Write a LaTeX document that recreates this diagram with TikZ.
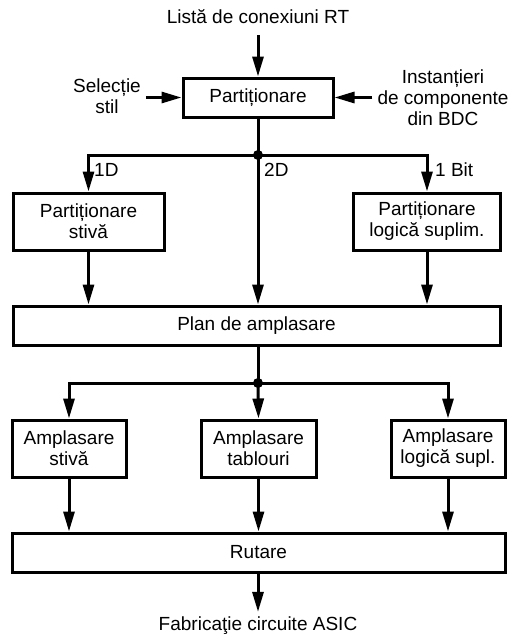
\documentclass[tikz,border=0pt]{standalone}
\usepackage{fontspec}
\setmainfont{Liberation Sans}
\usetikzlibrary{arrows.meta}
\begin{document}
\begin{tikzpicture}[x=1pt,y=-1pt,
  every node/.style={font=\fontsize{19}{21}\selectfont, inner sep=0pt},
  box/.style={draw, line width=3pt, align=center, minimum height=#1},
  box/.default=39pt,
  wire/.style={line width=3pt},
  arr/.style={wire, -{Triangle[length=20pt,width=11pt]}},
  lbl/.style={align=center},
  dot/.style={circle, fill, inner sep=0pt, minimum size=10pt}]
\useasboundingbox (0,0) rectangle (510,635);

% inputs
\node[lbl] (src) at (258,17) {Listă de conexiuni RT};
\node[lbl] (sel) at (107,96) {Selecție\\stil};
\node[lbl] (inst) at (443,98) {Instanțieri\\de componente\\din BDC};

% partitioning stage
\node[box, minimum width=150pt] (part) at (258,97.5) {Partiționare};
\node[box=57pt, minimum width=151pt] (pstack) at (88.5,221.5) {Partiționare\\stivă};
\node[box=57pt, minimum width=147pt] (plogic) at (427,221.5) {Partiționare\\logică suplim.};
\node[box, minimum width=487pt] (plan) at (256.5,325.5) {Plan de amplasare};

% placement stage
\node[box=57pt, minimum width=114pt] (astack) at (69,448.5) {Amplasare\\stivă};
\node[box=57pt, minimum width=115pt] (atabl) at (258.5,448.5) {Amplasare\\tablouri};
\node[box=57pt, minimum width=114pt] (alogic) at (448,448.5) {Amplasare\\logică supl.};
\node[box, minimum width=493pt] (rut) at (258.5,552.5) {Rutare};

\node[lbl] (out) at (258,626) {Fabricaţie circuite ASIC};

% junctions
\node[dot] (j1) at (258,155) {};
\node[dot] (j2) at (258,383) {};

% connectors into partitioning
\draw[arr, shorten <=11pt] (src.south) -- (part.north);
\draw[arr, shorten <=5pt] (sel.east |- part.west) -- (part.west);
\draw[arr, shorten <=5pt] (inst.west |- part.east) -- (part.east);

% split after partitioning
\draw[wire] (part.south) -- (j1.center);
\draw[arr] (j1.center) -| (pstack.north);
\draw[arr] (j1.center) -| (plogic.north);
\draw[arr] (j1.center) -- (j1 |- plan.north);
\draw[arr] (pstack.south) -- (pstack.south |- plan.north);
\draw[arr] (plogic.south) -- (plogic.south |- plan.north);

\node[anchor=west] (l1d) at (94,170) {1D};
\node[anchor=west] (l2d) at (264,170) {2D};
\node[anchor=west] (l1b) at (435,170) {1 Bit};

% split after floorplan
\draw[wire] (j2 |- plan.south) -- (j2.center);
\draw[arr] (j2.center) -| (astack.north);
\draw[arr] (j2.center) -- (atabl.north);
\draw[arr] (j2.center) -| (alogic.north);
\draw[arr] (astack.south) -- (astack.south |- rut.north);
\draw[arr] (atabl.south) -- (atabl.south |- rut.north);
\draw[arr] (alogic.south) -- (alogic.south |- rut.north);

% output
\draw[arr, shorten >=5pt] (rut.south -| out.north) -- (out.north);
\end{tikzpicture}
\end{document}
